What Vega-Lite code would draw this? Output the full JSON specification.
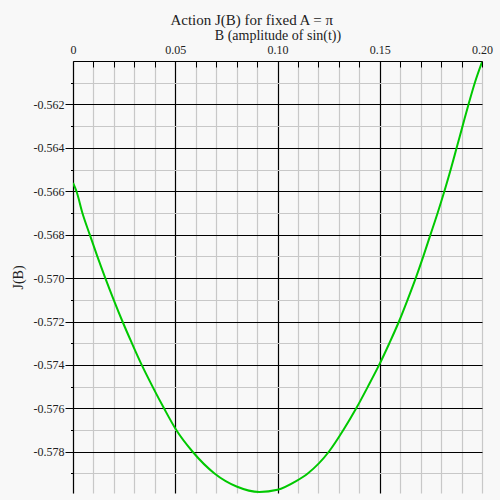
{
  "$schema": "https://vega.github.io/schema/vega-lite/v6.json",
  "autosize": "none",
  "width": 409,
  "height": 432,
  "padding": {"left": 73, "top": 61, "right": 18, "bottom": 7},
  "background": "#f8f8f8",
  "title": {"text": "Action J(B) for fixed A = π", "anchor": "middle", "frame": "bounds", "font": "Liberation Serif", "fontSize": 15, "fontWeight": "normal", "color": "#222", "offset": 0},
  "config": {"view": {"stroke": null}},
  "data": {"values": [
    {"B": 0.0, "J": -0.56562},
    {"B": 0.0017, "J": -0.566},
    {"B": 0.0046, "J": -0.567},
    {"B": 0.0082, "J": -0.568},
    {"B": 0.0119, "J": -0.569},
    {"B": 0.0158, "J": -0.570},
    {"B": 0.0199, "J": -0.571},
    {"B": 0.0242, "J": -0.572},
    {"B": 0.0288, "J": -0.573},
    {"B": 0.0336, "J": -0.574},
    {"B": 0.0389, "J": -0.575},
    {"B": 0.0445, "J": -0.576},
    {"B": 0.0505, "J": -0.577},
    {"B": 0.0585, "J": -0.578},
    {"B": 0.0692, "J": -0.579},
    {"B": 0.0800, "J": -0.5796},
    {"B": 0.0912, "J": -0.57985},
    {"B": 0.1000, "J": -0.57975},
    {"B": 0.1091, "J": -0.57935},
    {"B": 0.1148, "J": -0.579},
    {"B": 0.1251, "J": -0.578},
    {"B": 0.1322, "J": -0.577},
    {"B": 0.1385, "J": -0.576},
    {"B": 0.1442, "J": -0.575},
    {"B": 0.1497, "J": -0.574},
    {"B": 0.1547, "J": -0.573},
    {"B": 0.1594, "J": -0.572},
    {"B": 0.1636, "J": -0.571},
    {"B": 0.1676, "J": -0.570},
    {"B": 0.1713, "J": -0.569},
    {"B": 0.1748, "J": -0.568},
    {"B": 0.1783, "J": -0.567},
    {"B": 0.1816, "J": -0.566},
    {"B": 0.1847, "J": -0.565},
    {"B": 0.1876, "J": -0.564},
    {"B": 0.1905, "J": -0.563},
    {"B": 0.1934, "J": -0.562},
    {"B": 0.1965, "J": -0.561},
    {"B": 0.2, "J": -0.56005}
  ]},
  "mark": {"type": "line", "color": "#00c800", "strokeWidth": 2, "clip": true, "interpolate": "monotone"},
  "encoding": {
    "x": {
      "field": "B", "type": "quantitative",
      "scale": {"domain": [0, 0.2], "nice": false, "zero": false},
      "axis": {
        "orient": "top",
        "title": "B (amplitude of sin(t))",
        "titleFont": "Liberation Serif", "titleFontSize": 14, "titleFontWeight": "normal", "titleColor": "#222", "titlePadding": 1,
        "labelFont": "Liberation Serif", "labelFontSize": 12, "labelColor": "#222",
        "values": [0, 0.01, 0.02, 0.03, 0.04, 0.05, 0.06, 0.07, 0.08, 0.09, 0.1, 0.11, 0.12, 0.13, 0.14, 0.15, 0.16, 0.17, 0.18, 0.19, 0.2],
        "labelExpr": "round(datum.value*100) % 5 == 0 ? (datum.value == 0 ? '0' : format(datum.value, '.2f')) : ''",
        "labelFlush": false,
        "labelOverlap": false,
        "domainColor": "#000", "domainWidth": 1.2,
        "tickColor": "#000", "tickSize": -6, "tickWidth": 1,
        "labelPadding": 11,
        "grid": true,
        "gridColor": {"condition": {"test": "round(datum.value*100) % 5 == 0 && datum.value < 0.199 && datum.value > 0.001", "value": "#000"}, "value": "#c8c8c8"},
        "gridWidth": 1.2,
        "gridOpacity": 1
      }
    },
    "y": {
      "field": "J", "type": "quantitative",
      "scale": {"domain": [-0.5799, -0.56], "nice": false, "zero": false},
      "axis": {
        "title": "J(B)",
        "titleFont": "Liberation Serif", "titleFontSize": 14, "titleFontWeight": "normal", "titleColor": "#222", "titlePadding": 8,
        "labelFont": "Liberation Serif", "labelFontSize": 12, "labelColor": "#222",
        "values": [-0.561, -0.562, -0.563, -0.564, -0.565, -0.566, -0.567, -0.568, -0.569, -0.570, -0.571, -0.572, -0.573, -0.574, -0.575, -0.576, -0.577, -0.578, -0.579],
        "labelExpr": "round(datum.value*1000) % 2 == 0 ? '-' + format(-datum.value, '.3f') : ''",
        "labelOverlap": false,
        "labelFlush": false,
        "domainColor": "#000", "domainWidth": 1.2,
        "tickColor": "#000",
        "tickSize": {"condition": {"test": "round(datum.value*1000) % 2 == 0", "value": 8}, "value": 2.5},
        "tickWidth": 1,
        "labelPadding": 1,
        "grid": true,
        "gridColor": {"condition": {"test": "round(datum.value*1000) % 2 == 0", "value": "#000"}, "value": "#c8c8c8"},
        "gridWidth": 1.2,
        "gridOpacity": 1
      }
    }
  }
}
